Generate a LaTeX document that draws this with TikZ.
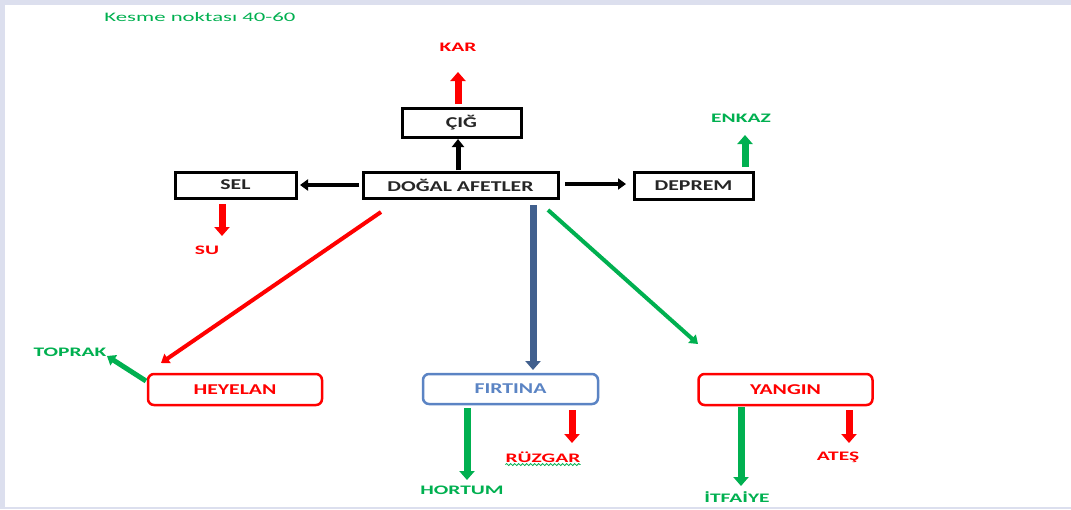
\documentclass[tikz,border=0pt]{standalone}
\usepackage{fontspec}
\setmainfont{Carlito}[FakeStretch=1.45]
\newfontfamily\labfont{Carlito}[FakeStretch=1.65]
\newfontfamily\titlefont{Carlito}[FakeStretch=1.75]
\usetikzlibrary{arrows.meta,decorations.pathmorphing}
\definecolor{frame}{HTML}{DCDFEE}
\definecolor{gr}{HTML}{00B050}
\definecolor{rd}{HTML}{FF0000}
\definecolor{bl}{HTML}{41608E}
\definecolor{lbl}{HTML}{5B84C4}
\definecolor{tx}{HTML}{262626}
\tikzset{
  sqbox/.style={draw=black,line width=3pt,fill=white,inner sep=0pt,font=\fontsize{15}{17}\selectfont\bfseries,text=tx},
  rbox/.style={draw=rd,line width=2.5pt,rounded corners=6pt,fill=white,inner sep=0pt,minimum width=174pt,minimum height=31pt,font=\fontsize{15}{17}\selectfont\bfseries,text=rd},
  bbox/.style={draw=lbl,line width=2.5pt,rounded corners=6pt,fill=white,inner sep=0pt,minimum width=175pt,minimum height=30pt,font=\fontsize{15}{17}\selectfont\bfseries,text=lbl},
  lab/.style={inner sep=0pt,font=\labfont\fontsize{13}{15}\selectfont\bfseries},
  fat/.style={line width=7pt,-{Triangle[width=15pt,length=9pt]}},
  mid/.style={line width=5pt,-{Triangle[width=12pt,length=8pt]}},
  thin/.style={line width=4pt,-{Triangle[width=11pt,length=8pt]}},
}
\begin{document}
\begin{tikzpicture}[x=1pt,y=-1pt]
\path[use as bounding box,fill=frame] (0,0) rectangle (1071,509);
\fill[white] (5,5) rectangle (1071,507);
\node[inner sep=0pt,text=gr,font=\titlefont\fontsize{13}{15}\selectfont] (title) at (200,17) {Kesme noktası 40-60};
% boxes
\node[sqbox,minimum width=119pt,minimum height=29pt] (cig) at (461.5,122.5) {ÇIĞ};
\node[sqbox,minimum width=195pt,minimum height=26pt] (dogal) at (460.5,185) {DOĞAL AFETLER};
\node[sqbox,minimum width=121pt,minimum height=26pt] (sel) at (235.5,185) {SEL};
\node[sqbox,minimum width=119pt,minimum height=27pt] (deprem) at (693.5,185.5) {DEPREM};
\node[rbox] (heyelan) at (235,389.5) {HEYELAN};
\node[bbox] (firtina) at (510.5,389) {FIRTINA};
\node[rbox] (yangin) at (785.5,389.5) {YANGIN};
% labels
\node[lab,text=rd] (kar) at (458,47) {KAR};
\node[lab,text=gr] (enkaz) at (741,118) {ENKAZ};
\node[lab,text=rd] (su) at (207,250) {SU};
\node[lab,text=gr] (toprak) at (70,352) {TOPRAK};
\node[lab,text=gr] (hortum) at (462,490) {HORTUM};
\node[lab,text=rd] (ruzgar) at (543,457) {RÜZGAR};
\node[lab,text=gr] (itfaiye) at (737,497) {İTFAİYE};
\node[lab,text=rd] (ates) at (838,457) {ATEŞ};
\draw[gr,line width=0.8pt,decorate,decoration={snake,amplitude=1pt,segment length=4pt}] ([yshift=-2pt]ruzgar.south west) -- ([yshift=-2pt]ruzgar.south east);
% connector ends
\coordinate (c1) at (458,104); \coordinate (c2) at (458,72);
\coordinate (d1) at (458,170); \coordinate (d2) at (458,139);
\coordinate (s1) at (359,185); \coordinate (s2) at (300,185);
\coordinate (p1) at (565,184); \coordinate (p2) at (626,184);
\coordinate (e1) at (745,167); \coordinate (e2) at (745,135);
\coordinate (u1) at (222,204); \coordinate (u2) at (222,236);
\coordinate (h1) at (381,212); \coordinate (h2) at (161,363);
\coordinate (f1) at (533,205); \coordinate (f2) at (533,370);
\coordinate (y1) at (548,210); \coordinate (y2) at (698,344);
\coordinate (t1) at (146,381); \coordinate (t2) at (107,356);
\coordinate (o1) at (467,408); \coordinate (o2) at (467,480);
\coordinate (r1) at (572,410); \coordinate (r2) at (572,443);
\coordinate (i1) at (741,407); \coordinate (i2) at (741,486);
\coordinate (a1) at (849,410); \coordinate (a2) at (849,443);
% arrows
\draw[fat,rd] (c1) -- (c2);
\draw[mid,black] (d1) -- (d2);
\draw[thin,black] (s1) -- (s2);
\draw[thin,black] (p1) -- (p2);
\draw[fat,gr] (e1) -- (e2);
\draw[fat,rd] (u1) -- (u2);
\draw[thin,rd] (h1) -- (h2);
\draw[fat,bl] (f1) -- (f2);
\draw[thin,gr] (y1) -- (y2);
\draw[mid,gr] (t1) -- (t2);
\draw[fat,gr] (o1) -- (o2);
\draw[fat,rd] (r1) -- (r2);
\draw[fat,gr] (i1) -- (i2);
\draw[fat,rd] (a1) -- (a2);
\end{tikzpicture}
\end{document}
